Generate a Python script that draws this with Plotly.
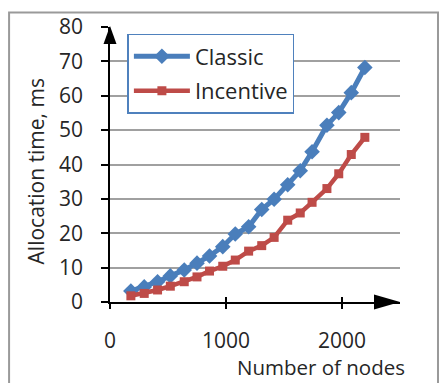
import plotly.graph_objects as go

# Number of nodes in the network
nodes = [180, 295, 410, 520, 640, 750, 858, 972, 1080, 1195,
         1308, 1415, 1532, 1640, 1742, 1870, 1972, 2080, 2197]

# Allocation time (ms) for each allocation scheme
classic_ms = [3.2, 4.4, 5.9, 7.6, 9.3, 11.3, 13.4, 16.1, 19.8, 21.9,
              26.9, 29.9, 34.1, 38.2, 43.7, 51.4, 55.1, 60.9, 68.2]
incentive_ms = [1.8, 2.5, 3.5, 4.6, 5.9, 7.3, 9.0, 10.4, 12.2, 14.8,
                16.4, 18.8, 23.8, 25.9, 29.0, 33.0, 37.3, 42.9, 47.9]

x_ticks = [0, 1000, 2000]
y_ticks = [0, 10, 20, 30, 40, 50, 60, 70, 80]

FONT = "Open Sans"
TXT = "#262626"
BLUE = "#4A7EBB"
RED = "#BE4B48"

fig = go.Figure()
fig.add_trace(go.Scatter(
    x=nodes, y=classic_ms, name="Classic", mode="lines+markers",
    legendgroup="a",
    line=dict(color=BLUE, width=5),
    marker=dict(symbol="diamond", size=12, color=BLUE),
))
fig.add_trace(go.Scatter(
    x=nodes, y=incentive_ms, name="Incentive", mode="lines+markers",
    legendgroup="b",
    line=dict(color=RED, width=4.5),
    marker=dict(symbol="square", size=9, color=RED),
))

fig.update_layout(
    width=443, height=383,
    margin=dict(l=110, r=43, t=20, b=81),
    paper_bgcolor="white", plot_bgcolor="white",
    font=dict(family=FONT, size=21, color=TXT),
    showlegend=True,
    legend=dict(
        x=0.06, y=0.975, xanchor="left", yanchor="top",
        bordercolor="#4F81BD", borderwidth=1.5, bgcolor="white",
        font=dict(family=FONT, size=22, color=TXT),
        itemwidth=56, tracegroupgap=3,
    ),
    xaxis=dict(
        range=[0, 2500], tickvals=x_ticks, ticks="outside", ticklen=5,
        tickwidth=1.5, tickcolor="black", showline=True, linecolor="black",
        linewidth=1.5, showgrid=False, zeroline=False,
        ticklabelstandoff=14,
    ),
    yaxis=dict(
        range=[0, 80], tickvals=y_ticks, ticks="outside", ticklen=7,
        tickwidth=1.5, tickcolor="black", showline=True, linecolor="black",
        linewidth=1.5, showgrid=True, gridcolor="#A0A0A0", gridwidth=1.5,
        zeroline=False, ticklabelstandoff=14,
    ),
)

# Inner tick halves so the x ticks cross the axis line
fig.update_layout(xaxis2=dict(
    overlaying="x", range=[0, 2500], tickvals=x_ticks, ticks="inside",
    ticklen=5, tickwidth=1.5, tickcolor="black", showticklabels=False,
    showgrid=False, zeroline=False, showline=False,
))
fig.add_trace(go.Scatter(x=[None], y=[None], xaxis="x2", showlegend=False,
                         hoverinfo="skip"))

# Arrowheads at the ends of both axes (paper-anchored, pixel-sized)
fig.add_shape(type="path", xref="paper", yref="paper", xsizemode="pixel",
              ysizemode="pixel", xanchor=1, yanchor=0,
              path="M -26,-7.5 L 0,0 L -26,7.5 Z",
              fillcolor="black", line=dict(width=0))
fig.add_shape(type="path", xref="paper", yref="paper", xsizemode="pixel",
              ysizemode="pixel", xanchor=0, yanchor=1,
              path="M -6.5,-17 L 0,1 L 6.5,-17 Z",
              fillcolor="black", line=dict(width=0))

# Axis titles
fig.add_annotation(text="Number of nodes", xref="paper", yref="paper",
                   x=1.025, y=-0.235, xanchor="right", yanchor="middle",
                   showarrow=False, font=dict(family=FONT, size=20.5, color=TXT))
fig.add_annotation(text="Allocation time, ms", xref="paper", yref="paper",
                   x=-0.255, y=0.475, textangle=-90, xanchor="center",
                   yanchor="middle", showarrow=False,
                   font=dict(family=FONT, size=21, color=TXT))

# Outer frame
fig.add_shape(type="rect", xref="paper", yref="paper",
              x0=-0.348, x1=1.131, y0=-0.30, y1=1.053,
              line=dict(color="#9A9A9A", width=2), layer="below")

fig.write_html("out.html")
